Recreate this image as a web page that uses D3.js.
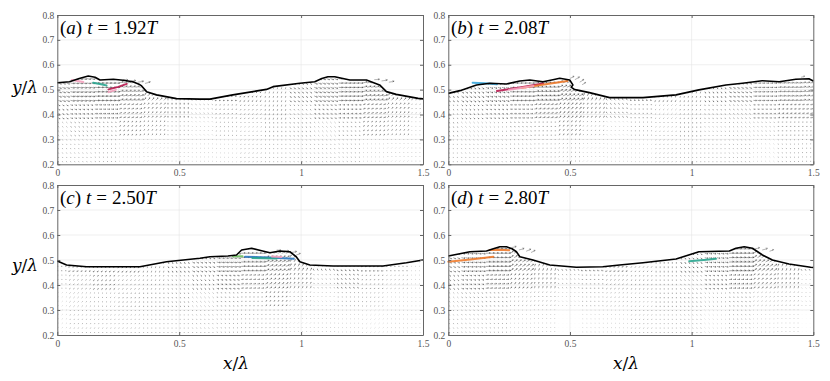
<!DOCTYPE html>
<html>
<head>
<meta charset="utf-8">
<script src="https://cdn.jsdelivr.net/npm/d3@7"></script>
<style>
  html, body { margin: 0; padding: 0; background: #fff; }
  svg { display: block; }
  .tick text { font-family: "Liberation Serif", serif; font-size: 9.5px; fill: #555; }
  .tick line { stroke: #666; }
  .domain { stroke: #666; }
</style>
</head>
<body>
<svg id="chart" width="830" height="381"></svg>
<script>
'use strict';

// axis ticks
var X_TICKS = [0, 0.5, 1, 1.5];
var X_TICK_LABELS = ["0", "0.5", "1", "1.5"];
var Y_TICKS = [0.2, 0.3, 0.4, 0.5, 0.6, 0.7, 0.8];
var Y_TICK_LABELS = ["0.2", "0.3", "0.4", "0.5", "0.6", "0.7", "0.8"];

// panel labels
var PANEL_LETTERS = ["a", "b", "c", "d"];
var PANEL_TIMES = ["1.92", "2.08", "2.50", "2.80"];

// free surface profiles [x/λ, y/λ]
var surfaceA = [[0, 0.528], [0.05, 0.532], [0.09, 0.545], [0.127, 0.555], [0.155, 0.55], [0.175, 0.539],
    [0.23, 0.542], [0.27, 0.538], [0.31, 0.532], [0.335, 0.522], [0.346, 0.515], [0.366, 0.492],
    [0.407, 0.479], [0.489, 0.464], [0.585, 0.462], [0.626, 0.462], [0.72, 0.479], [0.858, 0.501],
    [0.885, 0.512], [0.995, 0.526], [1.056, 0.532], [1.085, 0.545], [1.11, 0.552], [1.138, 0.552],
    [1.2, 0.539], [1.268, 0.539], [1.322, 0.519], [1.35, 0.492], [1.39, 0.481], [1.48, 0.465], [1.5, 0.463]];
var surfaceB = [[0, 0.485], [0.048, 0.496], [0.116, 0.519], [0.171, 0.526], [0.239, 0.523], [0.294, 0.535],
    [0.335, 0.539], [0.389, 0.532], [0.43, 0.54], [0.458, 0.546], [0.499, 0.539], [0.512, 0.519],
    [0.505, 0.51], [0.515, 0.503], [0.526, 0.499], [0.58, 0.488], [0.663, 0.468], [0.8, 0.468],
    [0.936, 0.479], [1.03, 0.499], [1.141, 0.519], [1.209, 0.526], [1.29, 0.536], [1.36, 0.532],
    [1.428, 0.542], [1.482, 0.544], [1.5, 0.535]];
var surfaceC = [[0, 0.496], [0.038, 0.48], [0.12, 0.473], [0.339, 0.473], [0.448, 0.493], [0.585, 0.507],
    [0.626, 0.513], [0.7, 0.516], [0.735, 0.52], [0.756, 0.54], [0.797, 0.547], [0.838, 0.537],
    [0.872, 0.529], [0.913, 0.536], [0.954, 0.533], [0.98, 0.513], [0.995, 0.493], [1.036, 0.48],
    [1.131, 0.476], [1.336, 0.476], [1.432, 0.489], [1.5, 0.5]];
var surfaceD = [[0, 0.516], [0.089, 0.533], [0.157, 0.536], [0.185, 0.545], [0.212, 0.553], [0.239, 0.553],
    [0.262, 0.545], [0.28, 0.533], [0.294, 0.513], [0.348, 0.5], [0.417, 0.48], [0.526, 0.471],
    [0.635, 0.473], [0.704, 0.48], [0.8, 0.489], [0.936, 0.504], [1.03, 0.533], [1.155, 0.536],
    [1.182, 0.547], [1.216, 0.553], [1.25, 0.547], [1.291, 0.52], [1.332, 0.5], [1.4, 0.484],
    [1.489, 0.471], [1.5, 0.47]];

// coarse velocity samples read from the quiver field (columns x/λ, rows y/λ)
var QUIVER_COL_X = [0, 0.1, 0.2, 0.3, 0.4, 0.5, 0.6, 0.7, 0.8, 0.9, 1.0, 1.1, 1.2, 1.3, 1.4, 1.5];
var QUIVER_ROW_Y = [0.49, 0.42, 0.34, 0.26];

var uA = [
    [0.7, 0.9, 1.0, 0.9, 0.5, 0.0, -0.3, -0.4, -0.3, -0.1, 0.3, 0.7, 0.9, 0.9, 0.5, 0.1],
    [0.4, 0.5, 0.6, 0.5, 0.3, 0.0, -0.2, -0.3, -0.2, -0.1, 0.2, 0.4, 0.5, 0.5, 0.3, 0.1],
    [0.2, 0.3, 0.3, 0.3, 0.2, 0.0, -0.1, -0.2, -0.1, 0.0, 0.1, 0.2, 0.3, 0.3, 0.2, 0.0],
    [0.1, 0.1, 0.2, 0.1, 0.1, 0.0, -0.1, -0.1, -0.1, 0.0, 0.1, 0.1, 0.2, 0.1, 0.1, 0.0]];
var vA = [
    [-0.2, -0.1, 0.0, 0.3, 0.6, 0.5, 0.3, 0.0, -0.2, -0.3, -0.3, -0.2, 0.0, 0.3, 0.6, 0.4],
    [-0.2, -0.1, 0.0, 0.2, 0.4, 0.4, 0.2, 0.0, -0.2, -0.3, -0.2, -0.1, 0.0, 0.2, 0.4, 0.3],
    [-0.1, -0.1, 0.0, 0.2, 0.3, 0.3, 0.2, 0.0, -0.1, -0.2, -0.2, -0.1, 0.0, 0.2, 0.3, 0.2],
    [-0.1, -0.1, 0.0, 0.1, 0.2, 0.2, 0.1, 0.0, -0.1, -0.1, -0.1, -0.1, 0.0, 0.1, 0.2, 0.2]];

var uB = [
    [0.2, 0.5, 0.7, 0.9, 1.0, 0.9, 0.3, -0.3, -0.4, -0.3, -0.1, 0.2, 0.5, 0.7, 0.8, 0.8],
    [0.1, 0.3, 0.4, 0.5, 0.6, 0.5, 0.2, -0.2, -0.3, -0.2, -0.1, 0.1, 0.3, 0.4, 0.5, 0.5],
    [0.1, 0.2, 0.2, 0.3, 0.3, 0.3, 0.1, -0.1, -0.2, -0.1, 0.0, 0.1, 0.2, 0.2, 0.3, 0.3],
    [0.0, 0.1, 0.1, 0.2, 0.2, 0.2, 0.1, -0.1, -0.1, -0.1, 0.0, 0.0, 0.1, 0.1, 0.2, 0.2]];
var vB = [
    [-0.3, -0.3, -0.2, 0.0, 0.2, 0.5, 0.6, 0.4, 0.1, -0.2, -0.3, -0.3, -0.2, 0.0, 0.1, 0.2],
    [-0.2, -0.2, -0.1, 0.0, 0.2, 0.4, 0.4, 0.3, 0.1, -0.1, -0.2, -0.2, -0.1, 0.0, 0.1, 0.1],
    [-0.2, -0.1, -0.1, 0.0, 0.1, 0.3, 0.3, 0.2, 0.1, -0.1, -0.2, -0.1, -0.1, 0.0, 0.1, 0.1],
    [-0.1, -0.1, -0.1, 0.0, 0.1, 0.2, 0.2, 0.1, 0.0, -0.1, -0.1, -0.1, -0.1, 0.0, 0.0, 0.1]];

var uC = [
    [-0.3, -0.4, -0.4, -0.3, -0.1, 0.2, 0.5, 0.8, 0.9, 0.8, 0.3, -0.2, -0.4, -0.4, -0.3, -0.1],
    [-0.2, -0.3, -0.3, -0.2, -0.1, 0.1, 0.3, 0.5, 0.5, 0.5, 0.2, -0.1, -0.3, -0.3, -0.2, -0.1],
    [-0.1, -0.2, -0.2, -0.1, 0.0, 0.1, 0.2, 0.3, 0.3, 0.3, 0.1, -0.1, -0.2, -0.2, -0.1, 0.0],
    [-0.1, -0.1, -0.1, -0.1, 0.0, 0.0, 0.1, 0.2, 0.2, 0.2, 0.1, 0.0, -0.1, -0.1, -0.1, 0.0]];
var vC = [
    [0.1, -0.1, -0.2, -0.3, -0.3, -0.3, -0.2, -0.1, 0.1, 0.4, 0.6, 0.4, 0.2, 0.0, 0.1, 0.1],
    [0.1, -0.1, -0.2, -0.2, -0.2, -0.2, -0.2, -0.1, 0.1, 0.3, 0.4, 0.3, 0.2, 0.0, 0.0, 0.1],
    [0.0, -0.1, -0.1, -0.2, -0.2, -0.2, -0.1, 0.0, 0.1, 0.2, 0.3, 0.2, 0.1, 0.0, 0.0, 0.0],
    [0.0, -0.1, -0.1, -0.1, -0.1, -0.1, -0.1, 0.0, 0.1, 0.1, 0.2, 0.2, 0.1, 0.0, 0.0, 0.0]];

var uD = [
    [0.5, 0.8, 1.0, 0.7, 0.2, -0.2, -0.4, -0.4, -0.2, 0.0, 0.3, 0.7, 1.0, 0.7, 0.2, -0.2],
    [0.3, 0.5, 0.6, 0.4, 0.1, -0.1, -0.3, -0.3, -0.1, 0.0, 0.2, 0.4, 0.6, 0.4, 0.1, -0.1],
    [0.2, 0.3, 0.3, 0.2, 0.1, -0.1, -0.2, -0.2, -0.1, 0.0, 0.1, 0.2, 0.3, 0.2, 0.1, -0.1],
    [0.1, 0.2, 0.2, 0.1, 0.0, 0.0, -0.1, -0.1, -0.1, 0.0, 0.1, 0.1, 0.2, 0.1, 0.0, 0.0]];
var vD = [
    [-0.2, -0.1, 0.1, 0.5, 0.5, 0.3, 0.1, -0.1, -0.2, -0.3, -0.3, -0.1, 0.1, 0.5, 0.5, 0.3],
    [-0.2, -0.1, 0.1, 0.3, 0.4, 0.3, 0.1, -0.1, -0.2, -0.2, -0.2, -0.1, 0.1, 0.3, 0.4, 0.2],
    [-0.1, -0.1, 0.0, 0.2, 0.3, 0.2, 0.1, 0.0, -0.1, -0.2, -0.2, -0.1, 0.0, 0.2, 0.3, 0.2],
    [-0.1, 0.0, 0.0, 0.1, 0.2, 0.1, 0.1, 0.0, -0.1, -0.1, -0.1, 0.0, 0.0, 0.1, 0.2, 0.1]];

// spray vectors above the breaking fronts [x, y, u, v]
var sprayA = [[0.3, 0.535, 0.9, 0.1], [0.33, 0.53, 1.0, 0.2], [0.36, 0.525, 0.9, 0.3], [0.27, 0.54, 0.8, 0.0],
    [1.3, 0.54, 0.9, 0.1], [1.33, 0.535, 1.0, 0.2], [1.36, 0.53, 0.9, 0.2]];
var sprayB = [[0.5, 0.545, 0.7, 0.4], [0.52, 0.54, 0.8, 0.5], [0.54, 0.53, 0.7, 0.5], [0.55, 0.52, 0.6, 0.4],
    [1.45, 0.55, 0.6, 0.2]];
var sprayC = [[0.93, 0.535, 0.8, 0.1], [0.96, 0.53, 0.9, 0.2], [0.98, 0.52, 0.7, 0.3], [0.9, 0.54, 0.7, 0.0]];
var sprayD = [[0.26, 0.55, 0.8, 0.2], [0.29, 0.54, 0.9, 0.3], [0.32, 0.535, 0.8, 0.4], [0.34, 0.53, 0.7, 0.4],
    [1.26, 0.545, 0.8, 0.2], [1.29, 0.54, 0.9, 0.3], [1.32, 0.535, 0.7, 0.3]];

// coloured particle streaks: [colour index, [[x, y], ...]]
var PARTICLE_COLORS = ["#b8174e", "#f3a0bc", "#2aa58f", "#3aa6dc", "#f07b2c", "#2a78c0", "#6cbf5e"];
var particlesA = [[1, [[0.21, 0.49], [0.24, 0.499]]], [0, [[0.21, 0.501], [0.25, 0.511], [0.285, 0.523]]],
    [2, [[0.147, 0.528], [0.18, 0.522], [0.202, 0.517]]], [1, [[0.06, 0.539], [0.107, 0.531]]]];
var particlesB = [[3, [[0.1, 0.528], [0.15, 0.526], [0.2, 0.522]]], [0, [[0.2, 0.495], [0.3, 0.51], [0.39, 0.525]]],
    [4, [[0.3, 0.507], [0.4, 0.522], [0.49, 0.535]]], [1, [[0.25, 0.5], [0.35, 0.515]]]];
var particlesC = [[5, [[0.77, 0.513], [0.87, 0.51], [0.97, 0.505]]], [2, [[0.8, 0.508], [0.9, 0.506]]],
    [6, [[0.72, 0.515], [0.76, 0.515]]], [1, [[0.88, 0.514], [0.92, 0.512]]]];
var particlesD = [[4, [[0, 0.493], [0.1, 0.503], [0.185, 0.513]]], [4, [[0.17, 0.54], [0.21, 0.541], [0.25, 0.539]]],
    [2, [[0.99, 0.495], [1.05, 0.5], [1.1, 0.505]]]];

var SURFACES = [surfaceA, surfaceB, surfaceC, surfaceD];
var U_FIELDS = [uA, uB, uC, uD];
var V_FIELDS = [vA, vB, vC, vD];
var SPRAYS = [sprayA, sprayB, sprayC, sprayD];
var PARTICLES = [particlesA, particlesB, particlesC, particlesD];

// layout
var PANEL_BOXES = [
    { left: 57.3, top: 15, width: 365.7, height: 149.3 },
    { left: 448.3, top: 15, width: 365, height: 149.3 },
    { left: 57.3, top: 185, width: 365.7, height: 150 },
    { left: 448.3, top: 185, width: 365, height: 150 }
];
var GRID_DX = 1.5 / 90;
var GRID_DY = 0.0175;
var ARROW_PX = 4.5;

var svg = d3.select("#chart");

PANEL_BOXES.forEach(function (box, i) {
    renderPanel(svg, box, i);
});

// axis titles
var serif = "'DejaVu Serif', serif";
[89, 267].forEach(function (cy) {
    var t = svg.append("text").attr("x", 25).attr("y", cy + 3.5)
        .attr("text-anchor", "middle").attr("font-family", serif).attr("font-size", 17);
    t.append("tspan").attr("font-style", "italic").text("y");
    t.append("tspan").text("/");
    t.append("tspan").attr("font-style", "italic").text("λ");
});
[236, 626].forEach(function (cx) {
    var t = svg.append("text").attr("x", cx).attr("y", 369)
        .attr("text-anchor", "middle").attr("font-family", serif).attr("font-size", 17);
    t.append("tspan").attr("font-style", "italic").text("x");
    t.append("tspan").text("/");
    t.append("tspan").attr("font-style", "italic").text("λ");
});

/**
 * Render one panel: grid, quiver field, particles, surface, axes and label
 */
function renderPanel(svg, box, i) {
    var x = d3.scaleLinear().domain([0, 1.5]).range([0, box.width]);
    var y = d3.scaleLinear().domain([0.2, 0.8]).range([box.height, 0]);
    var len = d3.scaleLinear().domain([0, 1]).range([0, ARROW_PX]);

    var g = svg.append("g").attr("transform", "translate(" + box.left + "," + box.top + ")");

    // grid lines
    g.append("g").selectAll("line.gx").data(X_TICKS.slice(1, -1)).enter().append("line")
        .attr("x1", function (d) { return x(d); }).attr("x2", function (d) { return x(d); })
        .attr("y1", 0).attr("y2", box.height)
        .attr("stroke", "#e4e4e4").attr("stroke-width", 0.6);
    g.append("g").selectAll("line.gy").data(Y_TICKS.slice(1, -1)).enter().append("line")
        .attr("x1", 0).attr("x2", box.width)
        .attr("y1", function (d) { return y(d); }).attr("y2", function (d) { return y(d); })
        .attr("stroke", "#e4e4e4").attr("stroke-width", 0.6);

    var surface = SURFACES[i];

    // clip below the free surface
    var clipId = "water" + i;
    var area = d3.area().x(function (d) { return x(d[0]); }).y0(y(0.2)).y1(function (d) { return y(d[1]); });
    g.append("clipPath").attr("id", clipId).append("path").attr("d", area(surface));

    // quiver field
    var uF = U_FIELDS[i], vF = V_FIELDS[i];
    var p = d3.path();
    var cols = d3.range(0, 91);
    var rows = d3.range(0, 20);
    cols.forEach(function (ci) {
        var gx = 0.004 + ci * GRID_DX;
        if (gx > 1.5) return;
        var col = d3.minIndex(QUIVER_COL_X, function (c) { return Math.abs(c - gx); });
        rows.forEach(function (ri) {
            var gy = 0.212 + ri * GRID_DY;
            if (gy > 0.56) return;
            var row = d3.minIndex(QUIVER_ROW_Y, function (r) { return Math.abs(r - gy); });
            addArrow(p, x(gx), y(gy), len(uF[row][col]), -len(vF[row][col]));
        });
    });
    g.append("path").attr("clip-path", "url(#" + clipId + ")")
        .attr("d", p.toString()).attr("fill", "none")
        .attr("stroke", "#000").attr("stroke-width", 0.5).attr("stroke-opacity", 0.68);

    // spray arrows
    var sp = d3.path();
    SPRAYS[i].forEach(function (s) {
        addArrow(sp, x(s[0]), y(s[1]), len(s[2]) * 1.3, -len(s[3]) * 1.3);
    });
    g.append("path").attr("d", sp.toString()).attr("fill", "none")
        .attr("stroke", "#000").attr("stroke-width", 0.5).attr("stroke-opacity", 0.6);

    // particles
    var pline = d3.line().x(function (d) { return x(d[0]); }).y(function (d) { return y(d[1]); });
    g.append("g").selectAll("path").data(PARTICLES[i]).enter().append("path")
        .attr("d", function (d) { return pline(d[1]); })
        .attr("fill", "none")
        .attr("stroke", function (d) { return PARTICLE_COLORS[d[0]]; })
        .attr("stroke-width", 2).attr("stroke-linecap", "round").attr("opacity", 0.9);

    // free surface
    g.append("path").attr("d", pline(surface)).attr("fill", "none")
        .attr("stroke", "#000").attr("stroke-width", 1.6).attr("stroke-linejoin", "round");

    // axes (ticks inside, box on)
    var fmtX = function (d, k) { return X_TICK_LABELS[k]; };
    var fmtY = function (d, k) { return Y_TICK_LABELS[k]; };
    g.append("g").attr("transform", "translate(0," + box.height + ")")
        .call(d3.axisBottom(x).tickValues(X_TICKS).tickFormat(fmtX).tickSize(-3).tickPadding(5).tickSizeOuter(0));
    g.append("g")
        .call(d3.axisLeft(y).tickValues(Y_TICKS).tickFormat(fmtY).tickSize(-3).tickPadding(3).tickSizeOuter(0));
    g.append("g")
        .call(d3.axisTop(x).tickValues(X_TICKS).tickFormat("").tickSize(-3).tickSizeOuter(0));
    g.append("g").attr("transform", "translate(" + box.width + ",0)")
        .call(d3.axisRight(y).tickValues(Y_TICKS).tickFormat("").tickSize(-3).tickSizeOuter(0));
    g.selectAll(".domain").attr("stroke-width", 1);

    // panel label
    var t = g.append("text").attr("x", 2.7).attr("y", 19)
        .attr("font-family", serif).attr("font-size", 19).attr("fill", "#000");
    t.append("tspan").text("(");
    t.append("tspan").attr("font-style", "italic").text(PANEL_LETTERS[i]);
    t.append("tspan").text(")");
    t.append("tspan").attr("dx", 5).attr("font-style", "italic").text("t");
    t.append("tspan").attr("dx", 5).text("=");
    t.append("tspan").attr("dx", 5).text(PANEL_TIMES[i]);
    t.append("tspan").attr("font-style", "italic").text("T");
}

/**
 * Append a quiver arrow (shaft and two head strokes) to a path
 */
function addArrow(p, x0, y0, dx, dy) {
    var x1 = x0 + dx, y1 = y0 + dy;
    var L = Math.sqrt(dx * dx + dy * dy);
    p.moveTo(x0, y0);
    p.lineTo(x1 + 0.01, y1 + 0.4);
    if (L > 1.5) {
        var a = Math.atan2(dy, dx), h = L * 0.33, s = 0.45;
        p.moveTo(x1, y1);
        p.lineTo(x1 - h * Math.cos(a - s), y1 - h * Math.sin(a - s));
        p.moveTo(x1, y1);
        p.lineTo(x1 - h * Math.cos(a + s), y1 - h * Math.sin(a + s));
    }
}
</script>
</body>
</html>
